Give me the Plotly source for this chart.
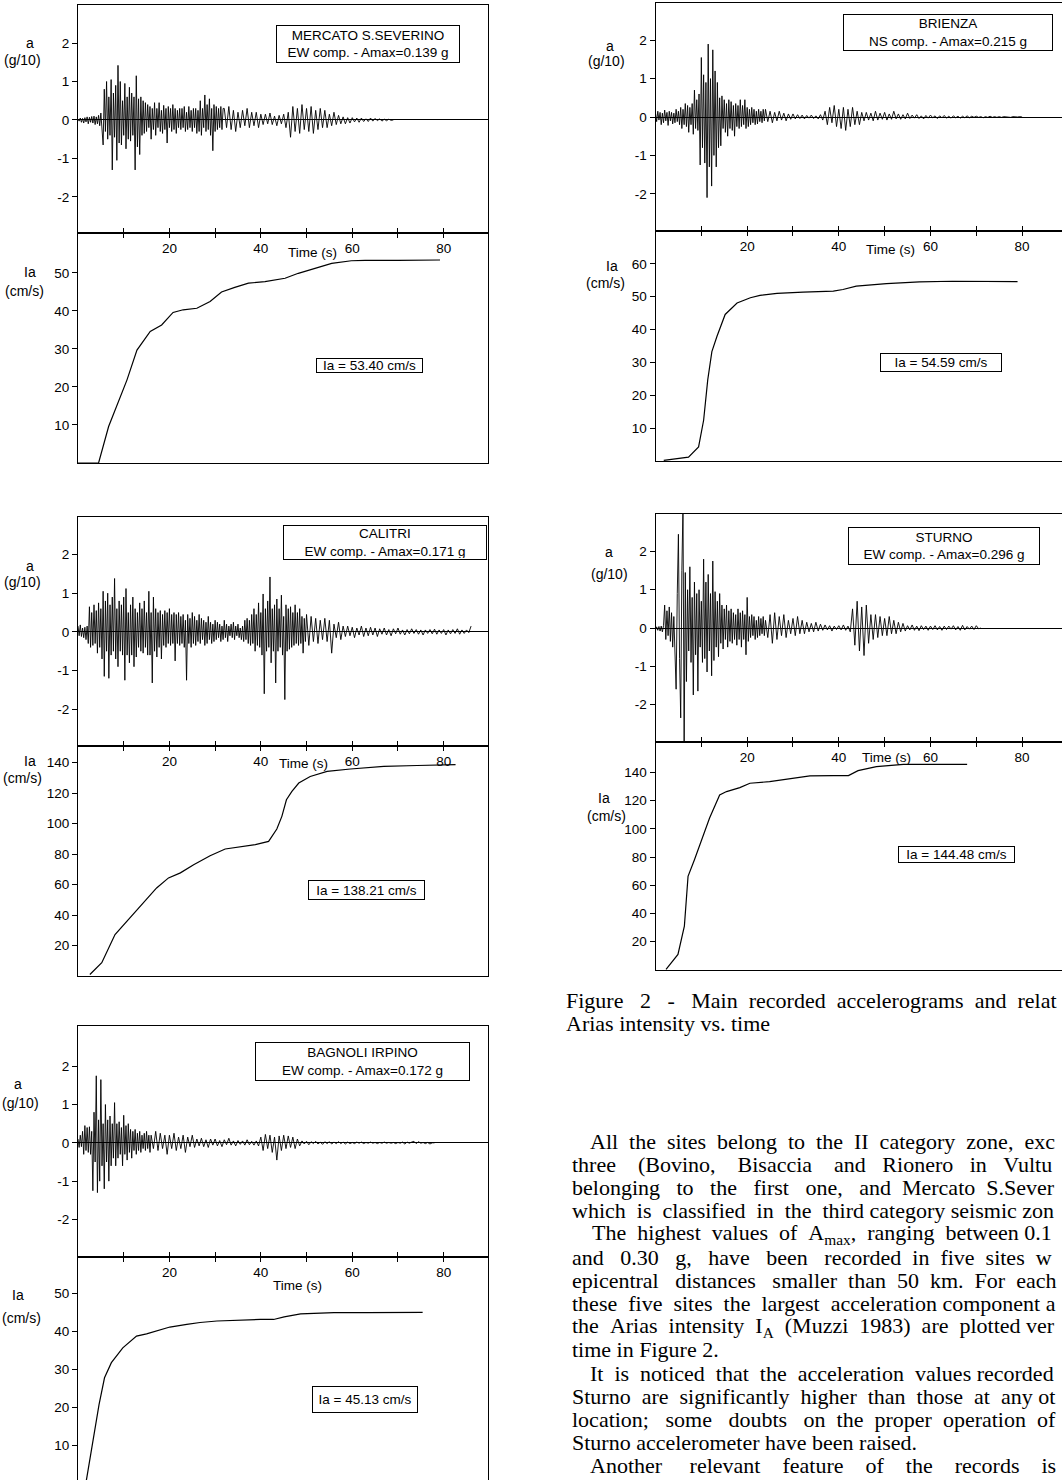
import re
import plotly.graph_objects as go

W, H = 1062, 1480
SANS = "Liberation Sans, Arial, Helvetica, sans-serif"
SERIF = "Liberation Serif, Times New Roman, serif"

# ---------------- DATA ----------------
# Each digitised accelerogram: a finely sampled strong-motion part (DT_FAST)
# followed by a coarser coda part (DT_SLOW).  Units: g/10.
DT_FAST = 0.25
DT_SLOW = 0.5

mercato_fast = [
    0.02, -0.03, 0.05, -0.06, 0.04, -0.08, 0.06, -0.05, 0.08, -0.1, 0.07, -0.06, 0.09, -0.08, 0.1, -0.12, 0.08, -0.1, 0.12, -0.15, 0.18, -0.2,
    -0.65, 0.8, -0.3, 1.0, -0.5, 0.6, -0.4, 1.05, -1.3, 0.7, -0.45, 0.9, -1.05, 1.42, -0.6, 1.0, -0.65, 0.5,
    -0.4, 0.95, -0.75, 0.6, -0.5, 0.85, -0.55, 0.7, -0.4, 0.6, -1.3, 1.15, -0.7, 0.55, -0.9, 0.6, -0.4, 0.5,
    -0.35, 0.45, -0.3, 0.4, -0.2, 0.35, -0.5, 0.3, -0.25, 0.45, -0.4, 0.3, -0.2, 0.45, -0.3, 0.25,
    -0.35, 0.38, -0.25, 0.3, -0.6, 0.35, -0.2, 0.3, -0.3, 0.4, -0.25, 0.3, -0.35, 0.25, -0.2, 0.3,
    -0.25, 0.3, -0.2, 0.35, -0.3, 0.2, -0.25, 0.35, -0.2, 0.25, -0.3, 0.3, -0.2, 0.3, -0.35, 0.25, -0.3, 0.5, -0.4,
    0.3, -0.2, 0.65, -0.3, 0.4, -0.25, 0.55, -0.4, 0.3, -0.8, 0.4, -0.3, 0.35, -0.25, 0.3, -0.2, 0.35, -0.25, 0.3,
]
mercato_slow = [
    0.3, -0.2, 0.35, -0.25, 0.25, -0.3, 0.2, -0.2, 0.25, -0.15, 0.3, -0.2, 0.2, -0.15, 0.2, -0.2, 0.15,
    -0.12, 0.15, -0.1, 0.18, -0.12, 0.1, -0.15, 0.12, -0.1, 0.15, -0.2, 0.2,
    -0.45, 0.35, -0.3, 0.3, -0.35, 0.4, -0.25, 0.3, -0.3, 0.35, -0.35, 0.25, -0.25, 0.3, -0.2, 0.25, -0.2, 0.15, -0.15, 0.2, -0.12, 0.12,
    -0.1, 0.08, -0.1, 0.06, -0.08, 0.06, -0.05, 0.05, -0.06, 0.05,
    -0.04, 0.03, -0.04, 0.05, -0.03, 0.04, -0.02, 0.03, -0.03, 0.02, -0.02, 0.02, -0.01, 0.0,
]

brienza_fast = [
    0.1, -0.12, 0.15, -0.08, 0.12, -0.2, 0.1, -0.15, 0.18, -0.1, 0.12, -0.22, 0.15, -0.1, 0.12, -0.18, 0.1, -0.15, 0.2, -0.12, 0.15, -0.2,
    0.25, -0.3, 0.2, -0.2, 0.35, -0.25, 0.3, -0.4, 0.25, -0.2, 0.35, -0.45, 0.7, -0.3, 0.45, -0.35, 0.6, -1.25,
    1.55, -0.8, 1.1, -1.2, 0.9, -2.1, 1.9, -1.3, 1.0, -1.8, 1.75, -1.0, 1.2, -1.3, 0.9, -0.8,
    0.5, -0.75, 0.55, -0.3, 0.45, -0.4, 0.35, -0.5, 0.45, -0.3, 0.4, -0.35, 0.3, -0.5, 0.35, -0.25, 0.3, -0.3, 0.45, -0.25,
    0.3, -0.2, 0.45, -0.3, 0.25, -0.25, 0.2, -0.2, 0.25, -0.15, 0.2, -0.2, 0.15, -0.18, 0.2, -0.12, 0.15, -0.15, 0.2, -0.1,
]
brienza_slow = [
    0.2, -0.12, 0.15, -0.15, 0.12, -0.1, 0.15, -0.08, 0.1, -0.1, 0.08, -0.06, 0.08,
    -0.05, 0.06, -0.04, 0.05, -0.05, 0.04, -0.03, 0.05, -0.04, 0.03, -0.05, 0.06, -0.08,
    0.15, -0.2, 0.25, -0.15, 0.3, -0.25, 0.2, -0.3, 0.25, -0.35, 0.2, -0.25, 0.25, -0.2, 0.15, -0.2, 0.12,
    -0.1, 0.12, -0.08, 0.1, -0.1, 0.15, -0.08, 0.1, -0.06, 0.12, -0.08, 0.08, -0.06, 0.15, -0.05, 0.08, -0.06, 0.06, -0.05, 0.1,
    -0.04, 0.05, -0.03, 0.06, -0.04, 0.03, -0.05, 0.04, -0.03, 0.05, -0.02, 0.03, -0.04, 0.03, -0.02,
    0.04, -0.03, 0.02, -0.03, 0.03, -0.02, 0.02, -0.03, 0.02, -0.02, 0.03, -0.02, 0.02, -0.01, 0.02,
    -0.01, 0.01, -0.02, 0.01, -0.01, 0.02, -0.01, 0.01, -0.01, 0.01, -0.01, 0.01, 0.0, 0.01, -0.01, 0.01, 0.0, 0.0, 0.01, 0.0,
]

calitri_fast = [
    0.15, -0.1, 0.18, -0.12, 0.1, -0.15, 0.12, -0.2, 0.15, -0.3, 0.65, -0.4,
    0.5, -0.35, 0.7, -0.3, 0.55, -0.55, 0.75, -0.4, 0.6, -0.7, 1.05, -1.15,
    0.8, -0.5, 1.0, -1.2, 0.7, -0.6, 0.9, -0.5, 1.38, -0.7, 0.6, -0.9, 0.8, -0.5, 0.7, -0.6, 0.9, -1.25, 1.12, -0.6, 0.5, -0.8, 0.7, -0.6,
    0.9, -0.9, 0.6, -0.65, 0.5, -0.4, 0.75, -0.5, 0.6, -0.55, 0.8, -0.4, 0.5, -0.6, 1.05, -0.6,
    0.5, -1.32, 0.9, -0.5, 0.6, -0.65, 0.5, -0.4, 0.55, -0.7, 0.45, -0.35, 0.55, -0.4, 0.5, -0.3,
    0.6, -0.35, 0.45, -0.3, 0.5, -0.75, 0.45, -0.3, 0.5, -0.35, 0.4, -0.3, 0.45, -0.4, 0.3, -1.25, 0.45, -0.3, 0.35, -0.4,
    0.5, -0.3, 0.4, -0.35, 0.3, -0.25, 0.45, -0.3, 0.35, -0.2, 0.3, -0.35, 0.25, -0.3, 0.4, -0.2, 0.25, -0.3, 0.2, -0.25,
    0.3, -0.2, 0.25, -0.15, 0.2, -0.25, 0.15, -0.2, 0.3, -0.15, 0.2, -0.25, 0.15, -0.1, 0.2,
    -0.15, 0.25, -0.2, 0.15, -0.1, 0.2, -0.15, 0.1, -0.2, 0.15, -0.25, 0.3, -0.2, 0.35, -0.3,
    0.3, -0.35, 0.45, -0.3, 0.6, -0.5, 0.45, -0.35, 0.75, -0.4, 0.5, -0.6, 0.98, -1.6, 0.6, -0.5, 0.8, -0.4, 1.42, -0.8,
    0.6, -0.5, 0.7, -1.32, 0.85, -0.5, 0.6, -0.4, 0.95, -0.6, 0.4, -1.75, 0.7, -0.5, 0.6, -0.45, 0.65, -0.4, 0.5, -0.35,
    0.7, -0.3, 0.5, -0.35, 0.6, -0.3, 0.4, -0.55, 0.35, -0.25,
]
calitri_slow = [
    0.45, -0.35, 0.4, -0.25, 0.35, -0.3, 0.3, -0.2, 0.35, -0.25, 0.3, -0.55, 0.2, -0.15, 0.25, -0.2, 0.15,
    -0.12, 0.15, -0.1, 0.12, -0.15, 0.1, -0.08, 0.15, -0.12, 0.1, -0.1, 0.12, -0.08, 0.1, -0.12, 0.08, -0.06, 0.1, -0.08, 0.06, -0.1, 0.08, -0.05, 0.1,
    -0.06, 0.05, -0.08, 0.06, -0.05, 0.08, -0.04, 0.06, -0.06, 0.05, -0.08, 0.05, -0.04, 0.06, -0.05, 0.07,
    -0.06, 0.05, -0.04, 0.06, -0.08, 0.05, -0.05, 0.06, -0.04, 0.08, -0.06, 0.05, -0.04, 0.05, -0.02, 0.15,
]

sturno_fast = [
    -0.05, 0.03, -0.06, 0.04, -0.08, 0.05, -0.1, 0.06,
    0.6, -0.3, 0.45, -0.2, 0.55, -0.35, 0.4, -0.5, 0.3, -0.45,
    -1.6, 0.9, 2.45, -0.8, -2.35, 1.5, 3.2, -3.2, 1.45, -1.4,
    1.0, -0.6, 1.6, -0.9, 0.8, -1.75, 1.2, -0.7, 0.9, -1.65, 1.0, -0.5,
    0.7, -0.9, 1.8, -0.8, 1.2, -1.15, 1.4, -0.6, 0.9, -1.25, 1.75, -0.85,
    0.95, -0.5, 0.7, -0.75, 0.9, -0.4, 0.6, -0.55, 0.5, -0.3, 0.6, -0.5, 0.45, -0.35, 0.5, -0.4, 0.4, -0.3, 0.35, -0.45,
    0.5, -0.3, 0.4, -0.5, 0.45, -0.3, 0.35, -0.7, 0.8, -0.35, 0.3, -0.25,
    0.35, -0.2, 0.3, -0.3, 0.2, -0.25, 0.3, -0.2, 0.25, -0.15, 0.3, -0.2,
]
sturno_slow = [
    0.2, -0.25, 0.35, -0.4, 0.4, -0.3, 0.3, -0.2, 0.35, -0.25, 0.2, -0.15, 0.25, -0.2, 0.3, -0.15, 0.2, -0.15, 0.15, -0.1, 0.12, -0.1, 0.15, -0.08, 0.1,
    -0.06, 0.08, -0.05, 0.06, -0.08, 0.05, -0.04, 0.06, -0.05, 0.08, -0.06, 0.05, -0.1,
    0.5, -0.45, 0.7, -0.6, 0.55, -0.72, 0.6, -0.4, 0.35, -0.3,
    0.35, -0.25, 0.3, -0.2, 0.25, -0.2, 0.3, -0.15, 0.2, -0.15, 0.15, -0.1, 0.12,
    -0.08, 0.06, -0.05, 0.08, -0.06, 0.05, -0.07, 0.06, -0.04, 0.05, -0.06, 0.05, -0.04, 0.06, -0.05, 0.04, -0.06,
    0.05, -0.04, 0.05, -0.03, 0.06, -0.05, 0.04, -0.06, 0.07, -0.05, 0.04, -0.03, 0.05, -0.04, 0.06, -0.02, 0.0,
]

bagnoli_fast = [
    0.1, -0.12, 0.2, -0.1,
    0.3, -0.3, 0.45, -0.2, 0.4, -0.25, 0.42, -0.3,
    0.3, -1.25, 0.8, -0.5, 1.75, -1.3, 0.6, -1.0, 1.65, -0.6, 0.5, -1.2,
    1.0, -0.5, 0.6, -1.0, 0.7, -0.6, 0.5, -0.4, 1.05, -0.6, 0.5, -0.4,
    0.55, -0.3, 0.4, -0.6, 0.72, -0.3, 0.45, -0.45, 0.5, -0.25, 0.35, -0.4, 0.3, -0.2,
    0.35, -0.3, 0.25, -0.2, 0.3, -0.25, 0.2, -0.15, 0.25, -0.2, 0.3, -0.15, 0.2, -0.25,
]
bagnoli_slow = [
    0.2, -0.15, 0.3, -0.2, 0.25, -0.15, 0.2, -0.3, 0.2, -0.15, 0.25, -0.2, 0.15, -0.15, 0.2, -0.25, 0.15, -0.1, 0.2,
    -0.12, 0.1, -0.08, 0.12, -0.1, 0.08, -0.12, 0.1, -0.06, 0.1, -0.08, 0.06, -0.1, 0.08, -0.05,
    0.12, -0.06, 0.05, -0.08, 0.06, -0.04, 0.05, -0.06, 0.08, -0.05, 0.04, -0.06, 0.05, -0.08,
    0.15, -0.2, 0.22, -0.15, 0.2, -0.25, 0.15, -0.45, 0.18, -0.2, 0.2, -0.15, 0.18, -0.12, 0.15, -0.15, 0.1, -0.08,
    0.05, -0.03, 0.04, -0.05, 0.03, -0.02, 0.04, -0.03, 0.02, -0.04, 0.03, -0.02, 0.03, -0.03, 0.02,
    -0.02, 0.03, -0.02, 0.02, -0.03, 0.02, -0.02, 0.01, -0.02, 0.02, -0.01, 0.02, -0.02, 0.01, -0.01,
    0.02, -0.01, 0.01, -0.02, 0.01, -0.01, 0.02, -0.01, 0.01, -0.01, 0.01, -0.02, 0.01, -0.01, 0.02,
    -0.03, 0.02, -0.01, 0.02, 0.04, -0.02, 0.03, -0.01, 0.01, -0.02, 0.01, -0.03, 0.0, 0.0,
]

# Arias intensity curves (time s, Ia cm/s)
ia_mercato_t = [0, 4.5, 6.7, 10.7, 12.9, 15.8, 18.3, 20.8, 23.0, 26.0, 28.9, 31.4, 34.3, 37.3, 40.9, 45.3, 48.2, 51.8, 55.5, 59.8, 62.8, 70.0, 79.2]
ia_mercato = [0, 0, 9.6, 21.8, 29.7, 34.6, 36.3, 39.6, 40.3, 40.7, 42.5, 45.0, 46.2, 47.3, 47.7, 48.6, 49.9, 51.2, 52.5, 53.2, 53.3, 53.3, 53.4]

ia_brienza_t = [1.8, 7.2, 9.4, 10.5, 11.4, 12.3, 13.4, 15.2, 17.8, 20.7, 22.8, 26.5, 32.2, 38.8, 40.9, 43.8, 50.4, 57.6, 64.8, 79.0]
ia_brienza = [0.2, 1.2, 4.3, 12.4, 24.7, 33.3, 37.9, 44.6, 48.1, 49.7, 50.4, 51.0, 51.4, 51.7, 52.2, 53.2, 54.0, 54.5, 54.7, 54.6]

ia_calitri_t = [2.6, 5.2, 8.1, 11.0, 14.3, 17.2, 19.8, 22.4, 25.3, 28.9, 32.2, 35.5, 38.8, 41.7, 43.5, 44.6, 45.6, 46.8, 48.3, 50.8, 54.5, 59.6, 66.9, 74.2, 82.6]
ia_calitri = [1.0, 8.7, 27.2, 37.0, 48.0, 57.8, 64.4, 67.7, 73.1, 79.0, 83.4, 84.7, 86.2, 88.4, 96.5, 104.8, 115.7, 121.2, 126.7, 131.0, 134.3, 135.9, 137.6, 138.2, 138.8]

ia_sturno_t = [2.3, 4.9, 6.3, 7.1, 8.5, 10.4, 11.8, 14.0, 15.5, 18.4, 20.6, 24.9, 30.0, 33.7, 38.8, 42.1, 44.2, 48.2, 54.1, 60.0, 68.0]
ia_sturno = [0.4, 11.0, 31.0, 66.3, 78.1, 94.6, 107.6, 124.0, 126.4, 129.2, 132.3, 133.4, 135.8, 137.5, 137.7, 137.7, 141.2, 144.0, 145.7, 145.9, 145.7]

ia_bagnoli_t = [1.8, 3.3, 4.6, 5.8, 7.3, 9.8, 12.8, 15.0, 17.2, 20.1, 23.8, 26.7, 30.4, 34.0, 39.9, 42.8, 45.1, 48.7, 56.0, 63.3, 75.4]
ia_bagnoli = [0.5, 11.0, 20.7, 27.8, 31.8, 35.7, 38.8, 39.4, 40.1, 41.2, 41.9, 42.4, 42.8, 43.0, 43.2, 43.2, 43.9, 44.7, 45.0, 45.0, 45.1]

stations = ["MERCATO S.SEVERINO", "BRIENZA", "CALITRI", "STURNO", "BAGNOLI IRPINO"]
components = ["EW comp. - Amax=0.139 g", "NS comp. - Amax=0.215 g", "EW comp. - Amax=0.171 g",
              "EW comp. - Amax=0.296 g", "EW comp. - Amax=0.172 g"]
ia_labels = ["Ia = 53.40 cm/s", "Ia = 54.59 cm/s", "Ia = 138.21 cm/s", "Ia = 144.48 cm/s", "Ia = 45.13 cm/s"]
acc_ticks = [-2, -1, 0, 1, 2]
acc_ticktext = ["-2", "-1", "0", "1", "2"]
ia_ticks = [[10, 20, 30, 40, 50], [10, 20, 30, 40, 50, 60], [20, 40, 60, 80, 100, 120, 140],
            [20, 40, 60, 80, 100, 120, 140], [10, 20, 30, 40, 50]]
time_all = [0, 10, 20, 30, 40, 50, 60, 70, 80]
time_major = [20, 40, 60, 80]
time_minor = [0, 10, 30, 50, 70]

accs = [(mercato_fast, mercato_slow), (brienza_fast, brienza_slow), (calitri_fast, calitri_slow),
        (sturno_fast, sturno_slow), (bagnoli_fast, bagnoli_slow)]
ias = [(ia_mercato_t, ia_mercato), (ia_brienza_t, ia_brienza), (ia_calitri_t, ia_calitri),
       (ia_sturno_t, ia_sturno), (ia_bagnoli_t, ia_bagnoli)]

caption = ["Figure 2 - Main recorded accelerograms and relat",
           "Arias intensity vs. time"]
body = [
    "All the sites belong to the II category zone, exc",
    "three (Bovino, Bisaccia and Rionero in Vultu",
    "belonging to the first one, and Mercato S.Sever",
    "which is classified in the third category seismic zon",
    "The highest values of A<sub>max</sub>, ranging between 0.1",
    "and 0.30 g, have been recorded in five sites w",
    "epicentral distances smaller than 50 km. For each",
    "these five sites the largest acceleration component a",
    "the Arias intensity I<sub>A</sub> (Muzzi 1983) are plotted ver",
    "time in Figure 2.",
    "It is noticed that the acceleration values recorded",
    "Sturno are significantly higher than those at any ot",
    "location; some doubts on the proper operation of",
    "Sturno accelerometer have been raised.",
    "Another relevant feature of the records is",
]

# ---------------- LAYOUT GEOMETRY (pixels) ----------------
geo = [
    dict(x0=78, x1=488, at=5, ab=233, it=233, ib=463, xmax=89.7, ar=[-2.94, 2.99], ir=[0, 60.5], rl=True, bl=True),
    dict(x0=655.5, x1=1062, at=3, ab=231, it=231, ib=461, xmax=88.7, ar=[-2.97, 2.97], ir=[0, 70], rl=False, bl=True),
    dict(x0=78, x1=488, at=517, ab=746, it=746, ib=976, xmax=89.7, ar=[-2.95, 2.97], ir=[0, 151], rl=True, bl=True),
    dict(x0=655.5, x1=1062, at=514, ab=742, it=742, ib=970, xmax=88.7, ar=[-2.98, 2.98], ir=[0, 161.5], rl=False, bl=True),
    dict(x0=78, x1=488, at=1026, ab=1257, it=1257, ib=1480, xmax=89.7, ar=[-2.98, 3.05], ir=[0.8, 59.7], rl=True, bl=False),
]

labels_pos = [
    dict(a=(30, 43), g=(22, 60), ia=(30, 272), cm=(24, 291), box=(276, 25, 460, 63), ibox=(316, 358, 423, 373), tm=(312, 252)),
    dict(a=(610, 46), g=(606, 61), ia=(612, 266), cm=(605, 283), box=(843, 14, 1053, 51), ibox=(880, 353, 1002, 372), tm=(890, 250)),
    dict(a=(30, 566), g=(22, 582), ia=(30, 761), cm=(22, 778), box=(283, 525, 487, 560), ibox=(308, 880, 425, 900), tm=(303, 763)),
    dict(a=(609, 552), g=(609, 574), ia=(604, 798), cm=(606, 816), box=(848, 527, 1040, 565), ibox=(898, 846, 1015, 863), tm=(887, 757)),
    dict(a=(18, 1084), g=(20, 1103), ia=(18, 1295), cm=(21, 1318), box=(255, 1042, 470, 1081), ibox=(312, 1386, 418, 1413), tm=(297, 1285)),
]

cap_geo = [(564, True), (564, False)]
body_geo = [(588, True), (570, True), (570, True), (570, True), (590, True), (570, True), (570, True),
            (570, True), (570, True), (570, False), (588, True), (570, True), (570, True), (570, False), (588, True)]
TEXT_SIZE = 22
TEXT_RIGHT = 1055
BODY_TOP = 1141
BODY_STEP = 23.2


def px(x):
    return x / W


def py(y):
    return 1 - y / H


# Times/Liberation Serif advance widths (1/1000 em) used to imitate the justified print
TW = {' ': 250, 'a': 444, 'b': 500, 'c': 444, 'd': 500, 'e': 444, 'f': 333, 'g': 500, 'h': 500, 'i': 278,
      'j': 278, 'k': 500, 'l': 278, 'm': 778, 'n': 500, 'o': 500, 'p': 500, 'q': 500, 'r': 333, 's': 389,
      't': 278, 'u': 500, 'v': 500, 'w': 722, 'x': 500, 'y': 500, 'z': 444, 'A': 722, 'B': 667, 'C': 667,
      'D': 722, 'E': 611, 'F': 556, 'G': 722, 'H': 722, 'I': 333, 'M': 889, 'R': 667, 'S': 556, 'T': 611,
      'V': 722, '.': 250, ',': 250, '(': 333, ')': 333, '-': 333, ';': 278, ':': 278}


def text_width(s, size):
    total = 0.0
    for part in re.split(r'(<sub>.*?</sub>)', s):
        if part.startswith('<sub>'):
            total += 0.7 * sum(TW.get(c, 500) for c in part[5:-6])
        else:
            total += sum(TW.get(c, 500) for c in part)
    return total * size / 1000.0


def justify(s, x0, size):
    words = s.split(' ')
    gaps = len(words) - 1
    extra = (TEXT_RIGHT - x0) - text_width(s, size)
    n = max(0, int(extra // (0.25 * size)))
    out = words[0]
    for k in range(gaps):
        add = n // gaps + (1 if k < n % gaps else 0)
        out += ' ' + '\u00a0' * add + words[k + 1]
    return out


fig = go.Figure()
layout = dict(width=W, height=H, margin=dict(l=0, r=0, t=0, b=0),
              paper_bgcolor="white", plot_bgcolor="white", showlegend=False,
              font=dict(family=SANS, size=14, color="black"))
annotations = []


def ann(text, x, y, size=14, family=SANS, xanchor="center", **kw):
    d = dict(text=text, x=px(x), y=py(y), xref="paper", yref="paper", showarrow=False,
             xanchor=xanchor, yanchor="middle", font=dict(family=family, size=size, color="black"))
    d.update(kw)
    annotations.append(d)


TICKF = dict(family=SANS, size=13.5, color="black")

for i, g in enumerate(geo):
    ka = 2 * i + 1
    ki = 2 * i + 2
    xd = [px(g["x0"]), min(1.0, px(g["x1"]))]
    layout[f"xaxis{ka}"] = dict(domain=xd, range=[0, g["xmax"]], anchor=f"y{ka}", tickvals=time_major,
                                ticks="inside", ticklen=5, tickcolor="black", showticklabels=True,
                                tickfont=TICKF, ticklabelstandoff=3,
                                minor=dict(tickvals=time_minor, ticks="inside", ticklen=5, tickcolor="black"),
                                showline=True, linecolor="black", linewidth=1, mirror=True,
                                showgrid=False, zeroline=False, fixedrange=True)
    layout[f"yaxis{ka}"] = dict(domain=[py(g["ab"]), py(g["at"])], range=g["ar"], anchor=f"x{ka}",
                                tickvals=acc_ticks, ticktext=acc_ticktext, ticks="outside", ticklen=5,
                                tickcolor="black", tickfont=TICKF, showline=True, linecolor="black",
                                linewidth=1, mirror=g["rl"], showgrid=False, zeroline=True,
                                zerolinecolor="black", zerolinewidth=1, fixedrange=True)
    layout[f"xaxis{ki}"] = dict(domain=xd, range=[0, g["xmax"]], anchor=f"y{ki}", side="top",
                                tickvals=time_all, ticks="inside", ticklen=5, tickcolor="black",
                                showticklabels=False,
                                showline=True, linecolor="black", linewidth=1, mirror=g["bl"],
                                showgrid=False, zeroline=False, fixedrange=True)
    layout[f"yaxis{ki}"] = dict(domain=[max(0.0, py(g["ib"])), py(g["it"])], range=g["ir"], anchor=f"x{ki}",
                                tickvals=ia_ticks[i], ticks="outside", ticklen=5, tickcolor="black",
                                tickfont=TICKF, showline=True, linecolor="black", linewidth=1,
                                mirror=g["rl"], showgrid=False, zeroline=False, fixedrange=True)

    fast, slow = accs[i]
    t1 = len(fast) * DT_FAST
    t = [k * DT_FAST for k in range(len(fast))] + [t1 + k * DT_SLOW for k in range(len(slow))]
    fig.add_trace(go.Scatter(x=t, y=fast + slow, mode="lines", line=dict(color="black", width=0.9),
                             xaxis=f"x{ka}", yaxis=f"y{ka}", hoverinfo="skip"))
    it, iv = ias[i]
    fig.add_trace(go.Scatter(x=it, y=iv, mode="lines", line=dict(color="black", width=1.2),
                             xaxis=f"x{ki}", yaxis=f"y{ki}", hoverinfo="skip"))

    L = labels_pos[i]
    ann("a", *L["a"])
    ann("(g/10)", *L["g"])
    ann("Ia", *L["ia"])
    ann("(cm/s)", *L["cm"])
    ann("Time (s)", *L["tm"], size=13.5)
    bx0, by0, bx1, by1 = L["box"]
    ann(stations[i] + "<br>" + components[i], (bx0 + bx1) / 2, (by0 + by1) / 2, size=13.5,
        bordercolor="black", borderwidth=1, borderpad=1, bgcolor="white",
        width=bx1 - bx0 - 4, height=by1 - by0 - 4, align="center")
    bx0, by0, bx1, by1 = L["ibox"]
    ann(ia_labels[i], (bx0 + bx1) / 2, (by0 + by1) / 2, size=13.5,
        bordercolor="black", borderwidth=1, borderpad=1, bgcolor="white",
        width=bx1 - bx0 - 4, height=by1 - by0 - 4, align="center")

for j, line in enumerate(caption):
    x0, jus = cap_geo[j]
    ann(justify(line, x0, TEXT_SIZE) if jus else line, x0, 1000 + 23 * j,
        size=TEXT_SIZE, family=SERIF, xanchor="left")

for j, line in enumerate(body):
    x0, jus = body_geo[j]
    ann(justify(line, x0, TEXT_SIZE) if jus else line, x0, BODY_TOP + BODY_STEP * j,
        size=TEXT_SIZE, family=SERIF, xanchor="left")

layout["annotations"] = annotations
fig.update_layout(**layout)
fig.write_html("out.html")
